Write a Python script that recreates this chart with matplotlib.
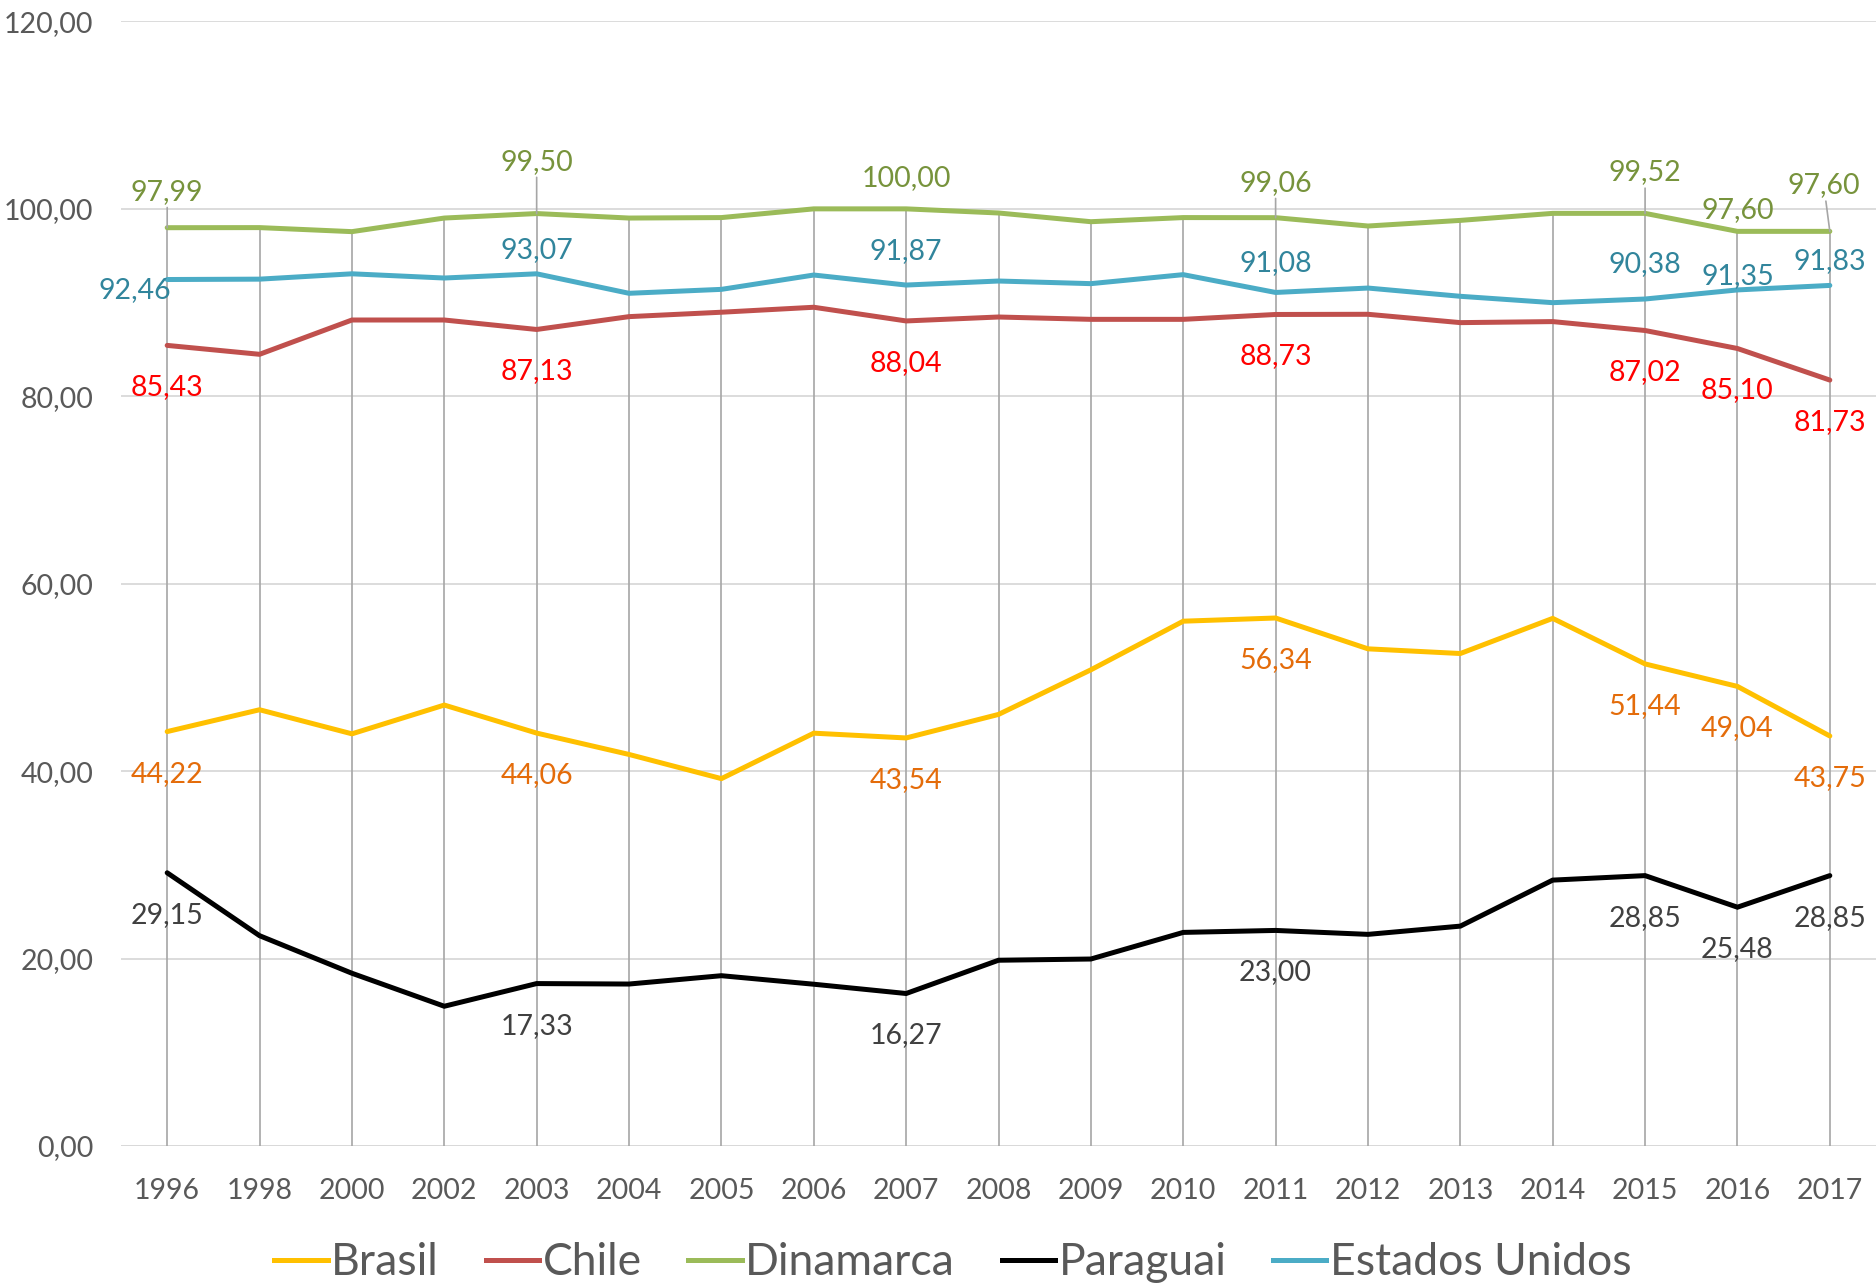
import matplotlib
matplotlib.use('Agg')
import matplotlib.pyplot as plt
from matplotlib.lines import Line2D

plt.rcParams['font.family'] = ['Lato', 'DejaVu Sans']

# ---------------- data ----------------
years = ['1996', '1998', '2000', '2002', '2003', '2004', '2005', '2006', '2007', '2008',
         '2009', '2010', '2011', '2012', '2013', '2014', '2015', '2016', '2017']
brasil = [44.22, 46.55, 43.98, 47.05, 44.06, 41.78, 39.20, 44.05, 43.54, 46.05,
          50.81, 56.00, 56.34, 53.05, 52.55, 56.30, 51.44, 49.04, 43.75]
chile = [85.43, 84.48, 88.14, 88.14, 87.13, 88.50, 88.97, 89.50, 88.04, 88.46,
         88.21, 88.21, 88.73, 88.75, 87.86, 87.97, 87.02, 85.10, 81.73]
dinamarca = [97.99, 98.00, 97.57, 99.02, 99.50, 99.02, 99.07, 100.00, 100.00, 99.56,
             98.63, 99.07, 99.06, 98.17, 98.77, 99.52, 99.52, 97.60, 97.60]
paraguai = [29.15, 22.44, 18.43, 14.91, 17.33, 17.28, 18.17, 17.26, 16.27, 19.82,
            19.95, 22.79, 23.00, 22.58, 23.46, 28.37, 28.85, 25.48, 28.85]
estados_unidos = [92.46, 92.50, 93.07, 92.62, 93.07, 90.99, 91.41, 92.94, 91.87, 92.30,
                  92.02, 92.98, 91.08, 91.55, 90.67, 89.99, 90.38, 91.35, 91.83]
series_names = ['Brasil', 'Chile', 'Dinamarca', 'Paraguai', 'Estados Unidos']
labeled_idx = [0, 4, 8, 12, 16, 17, 18]
y_ticks = [0, 20, 40, 60, 80, 100, 120]

# ---------------- styles ----------------
line_colors = ['#FFC000', '#C0504D', '#9BBB59', '#000000', '#4BACC6']
label_colors = ['#E46C0A', '#FF0000', '#77933C', '#404040', '#31859C']
below = [(0, -42)] * 7
label_offsets = [
    below,
    below,
    [(0, 36), (0, 52), (0, 31), (0, 35), (0, 41), (0, 21), (-6, 46)],
    below,
    [(-32, -11), (0, 24), (0, 34), (0, 29), (0, 35), (0, 14), (0, 24)],
]
leaders = [
    [False] * 7,
    [False] * 7,
    [True, True, False, True, True, False, True],
    [False] * 7,
    [False] * 7,
]

fig = plt.figure(figsize=(18.76, 12.84), dpi=100)
ax = fig.add_axes([0.0645, 0.1075, 0.9355, 0.8758])

all_series = [brasil, chile, dinamarca, paraguai, estados_unidos]
x = list(range(len(years)))

ax.set_xlim(-0.5, len(years) - 0.5)
ax.set_ylim(0, 120)
ax.set_yticks(y_ticks)
ax.set_yticklabels([f"{v:.2f}".replace('.', ',') for v in y_ticks])
ax.set_xticks(x)
ax.set_xticklabels(years)
ax.tick_params(axis='both', length=0, labelsize=20.5, labelcolor='#595959')
ax.tick_params(axis='y', pad=20)
ax.tick_params(axis='x', pad=23)
for s in ax.spines.values():
    s.set_visible(False)
ax.yaxis.grid(True, color='#D9D9D9', lw=1.3, zorder=0)
ax.set_axisbelow(True)
ax.axhline(0, color='#D9D9D9', lw=2.0, zorder=0.5)

# drop lines
tops = [max(vals) for vals in zip(*all_series)]
ax.vlines(x, 0, tops, color='#A6A6A6', lw=1.2, zorder=1)

handles = []
for k, (name, vals) in enumerate(zip(series_names, all_series)):
    ax.plot(x, vals, color=line_colors[k], lw=3.6, zorder=3,
            solid_joinstyle='miter', solid_capstyle='round')
    handles.append(Line2D([0], [0], color=line_colors[k], lw=3.6))
    for j, i in enumerate(labeled_idx):
        dx, dy = label_offsets[k][j]
        txt = f"{vals[i]:.2f}".replace('.', ',')
        ap = None
        if leaders[k][j]:
            ap = dict(arrowstyle='-', color='#A6A6A6', lw=1.2, shrinkA=0, shrinkB=0)
        ax.annotate(txt, (i, vals[i]), xytext=(dx, dy), textcoords='offset pixels',
                    ha='center', va='center', fontsize=20.5, color=label_colors[k],
                    zorder=5, annotation_clip=False, arrowprops=ap)

fig.legend(handles, series_names, loc='center', bbox_to_anchor=(0.508, 0.0165),
           ncol=5, frameon=False, fontsize=32, handlelength=1.2, handletextpad=0.08,
           columnspacing=1.05, labelcolor='#595959')

fig.savefig('out.png', dpi=100)
